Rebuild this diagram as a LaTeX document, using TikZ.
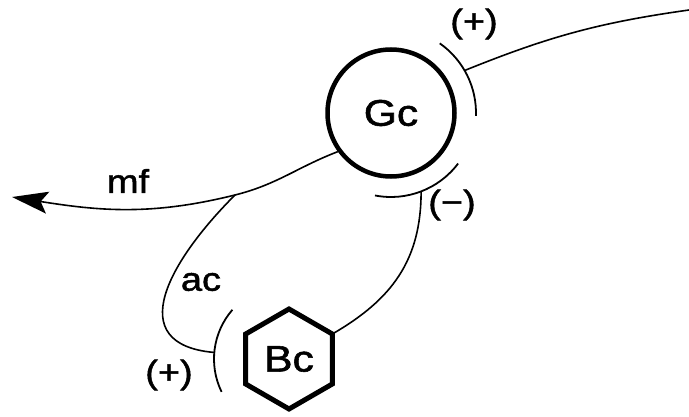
\documentclass[tikz,border=0pt]{standalone}
\usepackage{fontspec}
\newfontfamily\lblfont[FakeStretch=1.15,FakeBold=1.5]{Liberation Sans}
\usetikzlibrary{arrows.meta,shapes.geometric}
\begin{document}
\begin{tikzpicture}[x=1pt,y=1pt,
  conn/.style={line width=1.6pt},
  bracket/.style={line width=1.8pt},
  lbl/.style={font=\lblfont\fontsize{33}{38}\selectfont, inner sep=0pt},
  nodetext/.style={font=\lblfont\fontsize{37}{42}\selectfont}]
\useasboundingbox (0,0) rectangle (689,416);
\node[circle, draw, line width=4.5pt, minimum size=127pt, inner sep=0pt, nodetext] (Gc) at (391,303) {Gc};
\node[regular polygon, regular polygon sides=6, regular polygon rotate=30, draw, line width=5pt, minimum size=100pt, inner sep=0pt, nodetext] (Bc) at (289,57) {Bc};
% brackets
\draw[bracket] (Gc.center) ++(55:85) arc[start angle=55, end angle=-2, radius=85];
\draw[bracket] (Gc.center) ++(-101:84) arc[start angle=-101, end angle=-37, radius=84];
\draw[bracket] (Bc.center) ++(139:75) arc[start angle=139, end angle=206, radius=75];
% coordinates
\path (Gc.center) ++(30:85) coordinate (P);
\path (Gc.center) ++(-69:84) coordinate (M);
\path (Bc.center) ++(175:75) coordinate (A);
\path (Bc.center) ++(30:50) coordinate (V);
\coordinate (E) at (689,406);
\coordinate (J) at (235,221);
\coordinate (T) at (12,219);
% connectors
\draw[conn] (P) to[out=22, in=188] (E);
\draw[conn] (Gc.216) to[out=201, in=14] (J);
\draw[conn, -{Stealth[length=36pt, width=22pt, inset=7pt]}] (J) to[out=194, in=-9] (T);
\draw[conn] (J) to[out=225, in=175, looseness=1.5] (A);
\draw[conn] (V) to[out=30, in=-90, looseness=1.05] (M);
% labels
\node[lbl] (pG) at (474,392) {(+)};
\node[lbl] (mG) at (452,211) {(−)};
\node[lbl] (mf) at (128,235) {mf};
\node[lbl] (ac) at (201,134) {ac};
\node[lbl] (pB) at (169,41) {(+)};
\end{tikzpicture}
\end{document}
